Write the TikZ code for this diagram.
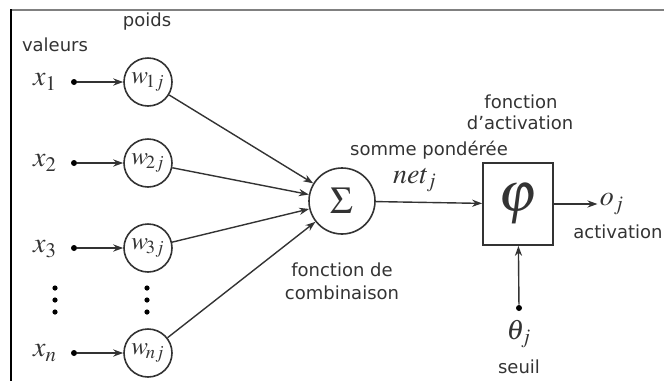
\documentclass[tikz,border=0pt]{standalone}
\usepackage{mathptmx}
\usepackage[no-math]{fontspec}
\setmainfont{DejaVu Sans}
\usetikzlibrary{arrows.meta, positioning}
\definecolor{trait}{HTML}{333333}

\begin{document}
\begin{tikzpicture}[
  x=0.5pt, y=-0.5pt,
  every node/.style={font=\fontsize{9}{10}\selectfont, text=trait},
  poids/.style={circle, draw=trait, line width=0.8pt, minimum size=24pt, inner sep=0pt, font=\fontsize{12.5}{12.5}\selectfont},
  point/.style={circle, fill=black, inner sep=0pt, minimum size=3pt},
  var/.style={font=\fontsize{14}{14}\selectfont, inner sep=1pt},
  lien/.style={-{Stealth[length=5pt, width=3.6pt]}, line width=0.7pt, draw=trait},
]
  \useasboundingbox (0,0) rectangle (664,381);

  % Cadre
  \draw[gray, line width=1pt] (11,9.5) -- (664,9.5);
  \draw[black, line width=0.8pt] (11,9) -- (11,381);

  % Titres
  \node (val) at (55,45) {valeurs};
  \node (pds) at (147,22) {poids};

  % Entrees
  \node[var] (x1) at (45,82) {$x_1$};
  \node[var] (x2) at (45,163) {$x_2$};
  \node[var] (x3) at (45,249) {$x_3$};
  \node[var] (xn) at (45,353) {$x_n$};
  \node[point] (d1) at (74,82) {};
  \node[point] (d2) at (74,163) {};
  \node[point] (d3) at (74,248) {};
  \node[point] (dn) at (74,353) {};

  % Poids
  \node[poids] (w1) at (148,82) {$w_{\!1j}$};
  \node[poids] (w2) at (148,163) {$w_{\!2j}$};
  \node[poids] (w3) at (148,248) {$w_{\!3j}$};
  \node[poids] (wn) at (148,353) {$w_{\!nj}$};

  % Points de suspension
  \foreach \i/\y in {a/288, b/300, c/312} {
    \node[point, minimum size=2.6pt] (v1\i) at (55,\y) {};
    \node[point, minimum size=2.6pt] (v2\i) at (147,\y) {};
  }

  % Somme et activation
  \node[circle, draw=trait, line width=0.8pt, minimum size=33pt, inner sep=0pt, font=\fontsize{19}{19}\selectfont] (som) at (342,201) {$\Sigma$};
  \node[rectangle, draw=trait, line width=0.9pt, minimum width=35pt, minimum height=41pt, inner sep=0pt, font=\fontsize{28}{28}\selectfont] (phi) at (518,204) {$\varphi$};
  \node (spd) at (429,150) {somme pondérée};
  \node[var] (net) at (415,180) {$net_j$};
  \node (fc1) at (342,270) {fonction de};
  \node (fc2) at (342,293) {combinaison};
  \node (fa1) at (521,102) {fonction};
  \node (fa2) at (520,123) {d’activation};

  % Sortie et seuil
  \node[var] (oj) at (612,204) {$o_j$};
  \node (act) at (618,232) {activation};
  \node[point] (t) at (519,308) {};
  \node[var] (th) at (519,334) {$\theta_j$};
  \node (seu) at (519,367) {seuil};

  % Liaisons
  \draw[lien] (d1) -- (w1);
  \draw[lien] (d2) -- (w2);
  \draw[lien] (d3) -- (w3);
  \draw[lien] (dn) -- (wn);
  \draw[lien] (w1) -- (som);
  \draw[lien] (w2) -- (som);
  \draw[lien] (w3) -- (som);
  \draw[lien] (wn) -- (som);
  \draw[lien] (som) -- (phi);
  \draw[lien] (phi) -- (oj);
  \draw[lien] (t) -- (phi);
\end{tikzpicture}
\end{document}
